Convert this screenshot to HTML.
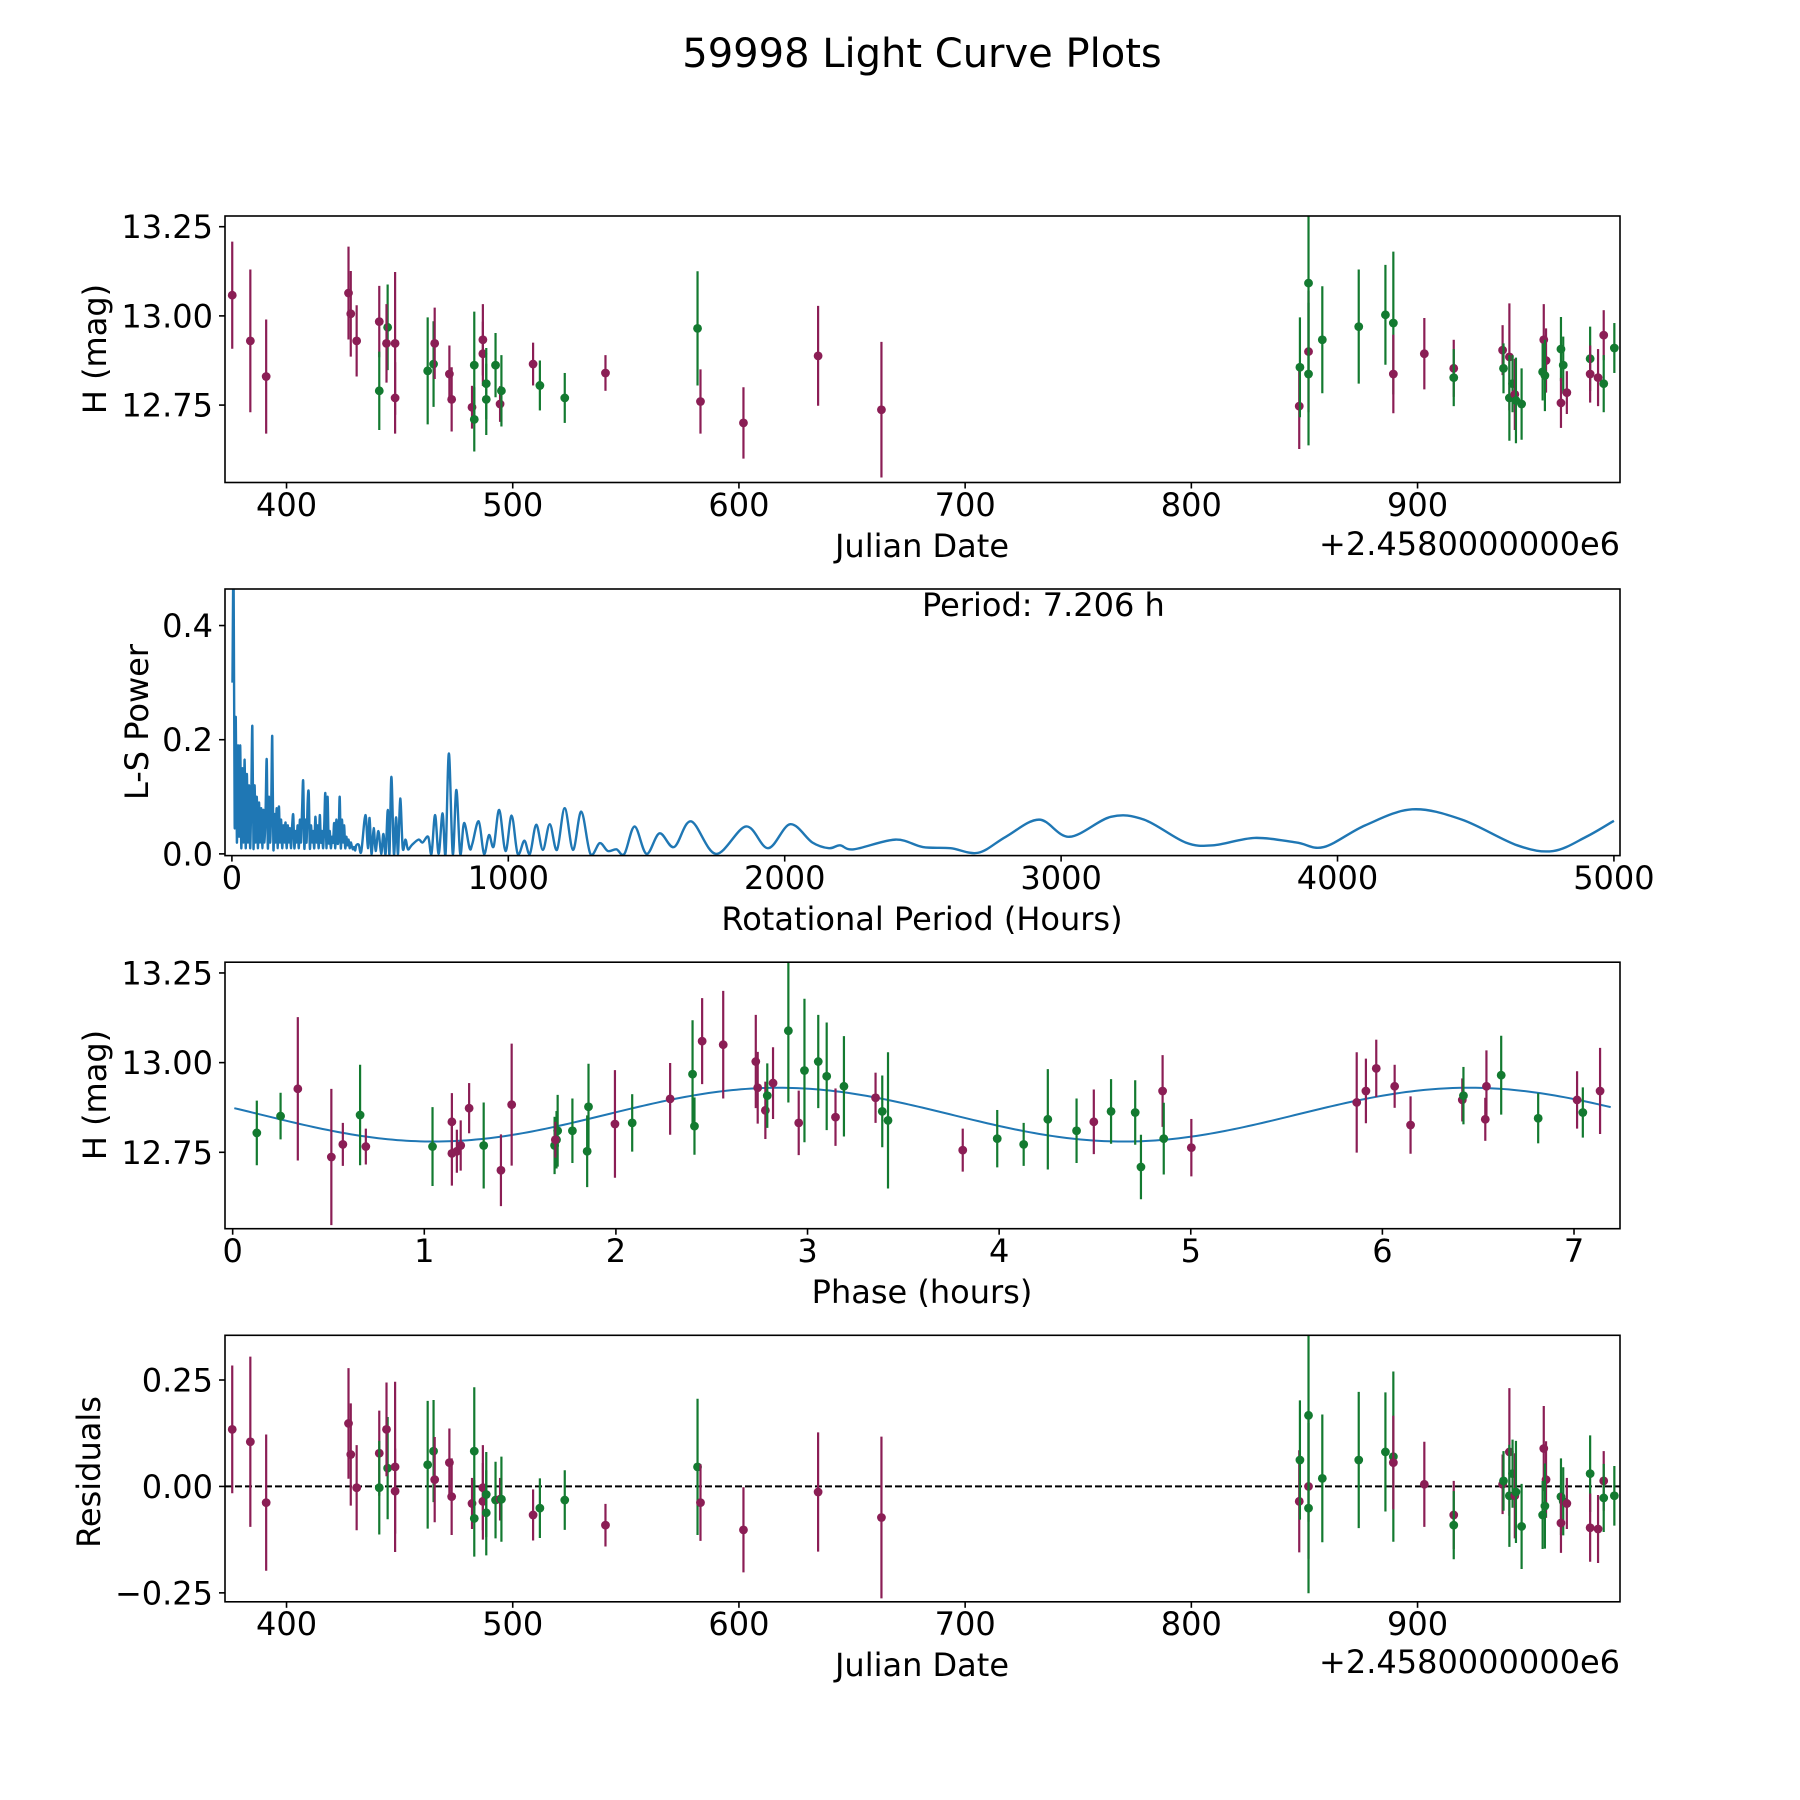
<!DOCTYPE html>
<html><head><meta charset="utf-8"><title>59998 Light Curve Plots</title>
<style>
html,body{margin:0;padding:0;background:#fff;}
svg{display:block;}
text{font-family:"DejaVu Sans","Liberation Sans",sans-serif;fill:#000;}
</style></head>
<body>
<svg id="fig" xmlns="http://www.w3.org/2000/svg" width="1800" height="1800" viewBox="0 0 1800 1800">
<rect width="1800" height="1800" fill="#fff"/>
<text x="922" y="67" font-size="40" text-anchor="middle">59998 Light Curve Plots</text>
</svg>
<script>
// ---------- data ----------
const dates = [376,384,391,427.4,428.4,431,441,441,444.7,444.2,448,448,462.4,465,465.5,472,473,482,483,483,486.8,486.8,488.3,488.3,492.4,494.4,495,509,512,523,541,581.7,583,602,635,663,847.7,848,851.8,851.8,851.8,857.9,874,885.8,889.3,889.3,903,916,916,937.6,938,940.6,940.6,942,943,943.5,946,955.8,956.8,955.3,956.3,963.4,964.4,963.4,966,976.3,976.3,979.8,982.3,982.3,987];
const mags = [13.058,12.93,12.83,13.064,13.006,12.93,12.984,12.79,12.968,12.923,12.923,12.77,12.846,12.865,12.923,12.837,12.766,12.744,12.71,12.862,12.933,12.894,12.81,12.766,12.862,12.753,12.79,12.865,12.805,12.77,12.84,12.965,12.76,12.70,12.888,12.737,12.747,12.856,12.90,13.092,12.837,12.933,12.97,13.003,12.98,12.837,12.894,12.853,12.827,12.904,12.853,12.885,12.77,12.81,12.78,12.763,12.753,12.933,12.875,12.843,12.833,12.907,12.862,12.756,12.785,12.88,12.837,12.827,12.946,12.81,12.91];
const magErrs = [0.15,0.2,0.16,0.13,0.12,0.1,0.1,0.11,0.12,0.11,0.2,0.1,0.15,0.12,0.1,0.08,0.09,0.06,0.09,0.15,0.1,0.09,0.1,0.1,0.09,0.05,0.1,0.06,0.07,0.07,0.05,0.16,0.09,0.1,0.14,0.19,0.12,0.14,0.17,0.25,0.2,0.15,0.16,0.14,0.2,0.11,0.1,0.08,0.08,0.07,0.07,0.15,0.12,0.08,0.1,0.12,0.1,0.1,0.09,0.08,0.1,0.09,0.08,0.07,0.06,0.09,0.08,0.08,0.07,0.08,0.07];
const bands = "mmmmmmmggmmmggmmmmggmmgggmgmggmgmmmmmgmggggggmmmgmgmggmggmmggggmmgmmmgg".split("");
const residuals = [0.134,0.105,-0.038,0.148,0.075,-0.003,0.078,-0.003,0.043,0.134,0.046,-0.011,0.051,0.083,0.016,0.056,-0.024,-0.04,-0.075,0.083,-0.003,-0.035,-0.019,-0.062,-0.032,-0.03,-0.03,-0.067,-0.051,-0.032,-0.091,0.046,-0.038,-0.102,-0.013,-0.073,-0.035,0.062,0,0.167,-0.051,0.019,0.062,0.081,0.07,0.056,0.005,-0.067,-0.091,0.005,0.013,0.081,-0.022,0.03,-0.022,-0.013,-0.094,0.089,0.016,-0.067,-0.046,-0.024,-0.035,-0.086,-0.04,0.03,-0.097,-0.1,0.013,-0.027,-0.022];

const phases = [0.126,0.25,0.34,0.515,0.575,0.665,0.695,1.043,1.144,1.144,1.17,1.19,1.234,1.31,1.40,1.456,1.68,1.69,1.696,1.684,1.773,1.857,1.85,1.995,2.085,2.283,2.4,2.41,2.45,2.56,2.73,2.74,2.78,2.79,2.82,2.9,2.954,2.984,3.056,3.10,3.146,3.19,3.355,3.39,3.42,3.81,3.99,4.128,4.254,4.404,4.494,4.584,4.71,4.74,4.853,4.859,5.003,5.866,5.914,5.968,6.064,6.147,6.417,6.423,6.537,6.543,6.62,6.813,7.016,7.046,7.136];
const phaseMags = [12.804,12.851,12.927,12.737,12.772,12.854,12.766,12.766,12.835,12.747,12.753,12.769,12.873,12.769,12.70,12.883,12.769,12.785,12.81,12.785,12.81,12.877,12.753,12.829,12.832,12.899,12.968,12.823,13.06,13.05,13.003,12.93,12.867,12.908,12.943,13.089,12.832,12.978,13.003,12.962,12.848,12.934,12.902,12.864,12.839,12.756,12.788,12.772,12.842,12.81,12.835,12.864,12.861,12.709,12.921,12.788,12.763,12.889,12.921,12.984,12.934,12.826,12.896,12.908,12.842,12.934,12.965,12.845,12.896,12.861,12.921];
const phaseErrs = [0.09,0.065,0.2,0.19,0.06,0.14,0.05,0.11,0.08,0.09,0.06,0.07,0.07,0.12,0.1,0.17,0.08,0.08,0.1,0.05,0.09,0.12,0.1,0.15,0.08,0.1,0.15,0.08,0.12,0.15,0.13,0.1,0.08,0.09,0.1,0.2,0.09,0.2,0.13,0.15,0.08,0.14,0.07,0.1,0.19,0.06,0.08,0.06,0.14,0.09,0.09,0.09,0.09,0.09,0.1,0.1,0.08,0.14,0.09,0.08,0.06,0.08,0.06,0.08,0.06,0.1,0.11,0.07,0.08,0.07,0.12];
const phaseBands = "ggmmmgmgmmmmmgmmgggmgggmgmggmmmmmgmgmgggmgmggmggggmgggmgmmmmmmmgmmggmgm".split("");

// fit (sinusoid with two maxima per rotation)
const fitMean = 12.855, fitAmp = 0.075, fitPeakPhase = 2.85, fitCycle = 3.603;

// Lomb-Scargle periodogram
const lsPeriods = [2,6,10,14,18,22,26,30,34,38,42,46,50,54,58,62,66,70,74,78,82,86,90,94,98,102,106,110,114,118,122,126,130,134,138,142,146,150,154,158,162,166,170,174,178,182,186,190,194,198,202,206,210,214,218,222,226,230,234,238,242,246,250,254,258,262,266,270,274,278,282,286,290,294,298,302,306,310,314,318,322,326,330,334,338,342,346,350,354,358,362,366,370,374,378,382,386,390,394,398,402,406,410,414,418,422,426,430,434,438,442,446,450,459,468,483,492,498,505,513,520,530,540,548,556,564,570,577,586,594,601,609,618,628,637,650,675,690,710,722,735,748,762,773,785,799,812,826,840,860,870,893,912,930,947,967,990,1012,1034,1058,1078,1101,1125,1150,1176,1204,1234,1264,1297,1331,1360,1391,1420,1457,1500,1547,1600,1661,1751,1860,1940,2020,2100,2160,2200,2250,2400,2500,2600,2700,2800,2920,3030,3180,3300,3450,3550,3700,3850,3950,4100,4270,4450,4650,4780,4900,5000];
const lsPower = [0.30,0.50,0.05,0.24,0.02,0.19,0.03,0.19,0.01,0.15,0.02,0.165,0.01,0.14,0.02,0.12,0.01,0.10,0.223,0.01,0.12,0.02,0.10,0.01,0.09,0.02,0.08,0.01,0.077,0.02,0.08,0.165,0.01,0.10,0.02,0.08,0.206,0.01,0.07,0.02,0.08,0.01,0.083,0.02,0.06,0.01,0.05,0.02,0.055,0.01,0.05,0.02,0.045,0.01,0.05,0.068,0.01,0.04,0.02,0.05,0.01,0.06,0.02,0.08,0.127,0.01,0.06,0.02,0.09,0.106,0.01,0.05,0.02,0.04,0.01,0.065,0.02,0.05,0.01,0.068,0.02,0.04,0.01,0.05,0.106,0.01,0.10,0.02,0.04,0.01,0.03,0.02,0.054,0.01,0.06,0.02,0.03,0.10,0.01,0.06,0.02,0.05,0.01,0.03,0.015,0.025,0.01,0.02,0.013,0.008,0.012,0.006,0.015,0.016,0.004,0.068,0.01,0.063,0.0,0.045,0.005,0.04,0.0,0.035,0.0,0.077,0.0,0.135,0.0,0.064,0.0,0.097,0.01,0.025,0.008,0.015,0.025,0.02,0.03,0.0,0.068,0.0,0.071,0.0,0.176,0.0,0.112,0.0,0.054,0.01,0.018,0.057,0.0,0.033,0.013,0.077,0.005,0.067,0.0,0.023,0.0,0.051,0.007,0.052,0.007,0.08,0.007,0.074,0.0,0.019,0.005,0.008,0.0,0.048,0.0,0.036,0.012,0.057,0.0,0.048,0.01,0.052,0.02,0.01,0.015,0.008,0.025,0.012,0.01,0.002,0.03,0.06,0.03,0.065,0.06,0.02,0.015,0.028,0.02,0.012,0.05,0.078,0.06,0.015,0.005,0.03,0.058];

const dateTicks = [400,500,600,700,800,900];
const magTicks = [12.75,13.00,13.25];
const magTickLabels = ["12.75","13.00","13.25"];
const periodTicks = [0,1000,2000,3000,4000,5000];
const powerTicks = [0.0,0.2,0.4];
const powerTickLabels = ["0.0","0.2","0.4"];
const phaseTicks = [0,1,2,3,4,5,6,7];
const resTicks = [-0.25,0,0.25];
const resTickLabels = ["\u22120.25","0.00","0.25"];

// ---------- rendering ----------
const NS = "http://www.w3.org/2000/svg";
const svg = document.getElementById("fig");
const COLORS = {m:"#8b1e55", g:"#137a30"};
function mk(tag, attrs, parent){
  const el = document.createElementNS(NS, tag);
  for (const k in attrs) el.setAttribute(k, attrs[k]);
  (parent||svg).appendChild(el);
  return el;
}
function scale(d0,d1,r0,r1){ return v => r0 + (v-d0)/(d1-d0)*(r1-r0); }

function panel(name, box, xdom, ydom){
  const g = mk("g", {});
  
  
  const p = {g, box, x: scale(xdom[0],xdom[1],box.x0,box.x1), y: scale(ydom[0],ydom[1],box.y1,box.y0)};
  const cid = name + "-clip";
  const cp = mk("clipPath", {id: cid}, g);
  mk("rect", {x:box.x0, y:box.y0, width:box.x1-box.x0, height:box.y1-box.y0}, cp);
  p.plot = mk("g", {"clip-path":"url(#"+cid+")"}, g);
  
  
  return p;
}
function frame(p){
  const b = p.box;
  const r = mk("rect", {x:b.x0, y:b.y0, width:b.x1-b.x0, height:b.y1-b.y0, fill:"none", stroke:"#000", "stroke-width":1.6}, p.g);
  
  
}
function xTicks(p, ticks, labels, labelY){
  ticks.forEach((t,i)=>{
    const x = p.x(t);
    const l = mk("line", {x1:x, x2:x, y1:p.box.y1, y2:p.box.y1+6, stroke:"#000", "stroke-width":1.6}, p.g);
    
    
    const tx = mk("text", {x:x, y:labelY, "font-size":32, "text-anchor":"middle"}, p.g);
    tx.textContent = labels[i];
    
    
  });
}
function yTicks(p, ticks, labels){
  ticks.forEach((t,i)=>{
    const y = p.y(t);
    const l = mk("line", {x1:p.box.x0-6, x2:p.box.x0, y1:y, y2:y, stroke:"#000", "stroke-width":1.6}, p.g);
    
    
    const tx = mk("text", {x:p.box.x0-12, y:y+11.5, "font-size":32, "text-anchor":"end"}, p.g);
    tx.textContent = labels[i];
    
    
  });
}
function label(p, txt, x, y, rot, nm, anchor){
  const t = mk("text", {x:x, y:y, "font-size":32, "text-anchor":anchor||"middle"}, p.g);
  if (rot) t.setAttribute("transform", "rotate(-90 "+x+" "+y+")");
  t.textContent = txt;
  
  
}
function errPoints(p, xs, ys, es, bs){
  xs.forEach((xv,i)=>{
    const c = COLORS[bs[i]] || COLORS.m;
    const x = p.x(xv);
    const gg = mk("g", {}, p.plot);
    
    
    mk("line", {x1:x, x2:x, y1:p.y(ys[i]-es[i]), y2:p.y(ys[i]+es[i]), stroke:c, "stroke-width":2.2}, gg);
    mk("circle", {cx:x, cy:p.y(ys[i]), r:4.4, fill:c}, gg);
  });
}
const offsetTxt = "+2.4580000000e6";
const dateLabels = dateTicks.map(String);

// Panel 1
const p1 = panel("light-curve-panel", {x0:225,x1:1620,y0:216,y1:482.5}, [372.8,989.5], [12.533,13.28]);
errPoints(p1, dates, mags, magErrs, bands);
frame(p1); xTicks(p1, dateTicks, dateLabels, 516); yTicks(p1, magTicks, magTickLabels);
label(p1, "Julian Date", 922, 557, false, "x-axis-title");
label(p1, offsetTxt, 1620, 555, false, "x-axis-offset", "end");
label(p1, "H (mag)", 106, 349, true, "y-axis-title");

// Panel 2
const p2 = panel("periodogram-panel", {x0:225,x1:1620,y0:589,y1:855.6}, [-25,5022], [-0.003,0.464]);
const pts = lsPeriods.map((pv,i)=>[p2.x(pv), p2.y(lsPower[i])]);
let d = "M" + pts[0][0].toFixed(2) + " " + pts[0][1].toFixed(2);
for (let i=0;i<pts.length-1;i++){
  const p0 = pts[Math.max(0,i-1)], pa = pts[i], pb = pts[i+1], p3 = pts[Math.min(pts.length-1,i+2)];
  const c1x = pa[0] + (pb[0]-p0[0])/6, c1y = pa[1] + (pb[1]-p0[1])/6;
  const c2x = pb[0] - (p3[0]-pa[0])/6, c2y = pb[1] - (p3[1]-pa[1])/6;
  d += "C" + c1x.toFixed(2) + " " + c1y.toFixed(2) + " " + c2x.toFixed(2) + " " + c2y.toFixed(2) + " " + pb[0].toFixed(2) + " " + pb[1].toFixed(2);
}
const ln = mk("path", {d:d, fill:"none", stroke:"#1f77b4", "stroke-width":2.4, "stroke-linejoin":"round"}, p2.plot);


frame(p2); xTicks(p2, periodTicks, periodTicks.map(String), 889); yTicks(p2, powerTicks, powerTickLabels);
label(p2, "Rotational Period (Hours)", 922, 930, false, "x-axis-title");
label(p2, "L-S Power", 148, 722, true, "y-axis-title");
label(p2, "Period: 7.206 h", 922, 616, false, "period-annotation", "start");

// Panel 3
const p3p = panel("phase-folded-panel", {x0:225,x1:1620,y0:962.2,y1:1228.7}, [-0.04,7.24], [12.537,13.28]);
let fd = "";
for (let k=0;k<=300;k++){
  const ph = -0.04 + k*(7.24+0.04)/300;
  if (ph < 0 || ph > 7.206) continue;
  const v = fitMean + fitAmp*Math.cos(2*Math.PI*(ph-fitPeakPhase)/fitCycle);
  fd += (fd? "L":"M") + p3p.x(ph).toFixed(2) + " " + p3p.y(v).toFixed(2);
}
const fl = mk("path", {d:fd, fill:"none", stroke:"#1f77b4", "stroke-width":2}, p3p.plot);


errPoints(p3p, phases, phaseMags, phaseErrs, phaseBands);
frame(p3p); xTicks(p3p, phaseTicks, phaseTicks.map(String), 1262); yTicks(p3p, magTicks, magTickLabels);
label(p3p, "Phase (hours)", 922, 1303, false, "x-axis-title");
label(p3p, "H (mag)", 106, 1095, true, "y-axis-title");

// Panel 4
const p4 = panel("residuals-panel", {x0:225,x1:1620,y0:1335.3,y1:1601.8}, [372.8,989.5], [-0.271,0.355]);
const zl = mk("line", {x1:225, x2:1620, y1:p4.y(0), y2:p4.y(0), stroke:"#000", "stroke-width":2, "stroke-dasharray":"7,3"}, p4.plot);


errPoints(p4, dates, residuals, magErrs, bands);
frame(p4); xTicks(p4, dateTicks, dateLabels, 1635); yTicks(p4, resTicks, resTickLabels);
label(p4, "Julian Date", 922, 1676, false, "x-axis-title");
label(p4, offsetTxt, 1620, 1673, false, "x-axis-offset", "end");
label(p4, "Residuals", 100, 1472, true, "y-axis-title");
</script>
</body></html>
